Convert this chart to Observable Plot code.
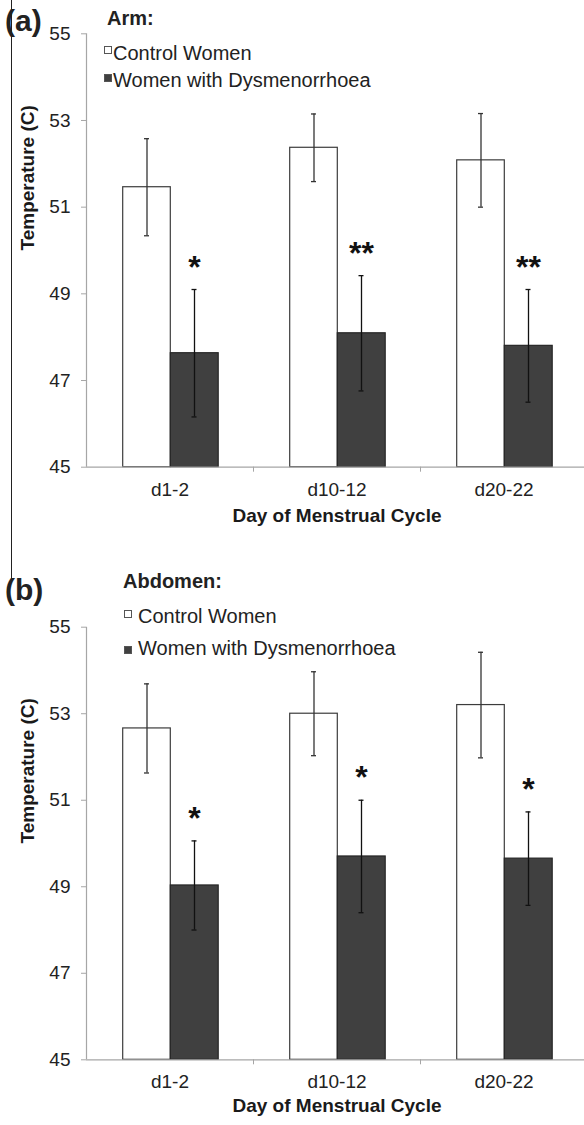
<!DOCTYPE html>
<html>
<head>
<meta charset="utf-8">
<script src="https://cdn.jsdelivr.net/npm/d3@7"></script>
<script src="https://cdn.jsdelivr.net/npm/@observablehq/plot@0.6"></script>
<style>
  html, body { margin: 0; padding: 0; background: #fff; }
  body { width: 584px; height: 1125px; overflow: hidden; position: relative;
         font-family: "Liberation Sans", Arial, sans-serif; color: #222; }
  .abs { position: absolute; white-space: nowrap; line-height: 1; }
  .sq { position: absolute; width: 6px; height: 6px; border: 1px solid #555; }
</style>
</head>
<body>
<div id="panelA" class="abs" style="left:0;top:0"></div>
<div id="panelB" class="abs" style="left:0;top:540px"></div>

<div class="abs" style="left:10.5px;top:0;width:1.5px;height:582px;background:#222"></div>

<div class="abs" style="left:5px;top:6px;font-size:30px;font-weight:bold">(a)</div>
<div class="abs" style="left:107px;top:8px;font-size:20px;font-weight:bold">Arm:</div>
<div class="sq" style="left:104px;top:46px;background:#fff"></div>
<div class="abs" style="left:113px;top:42.5px;font-size:20px">Control Women</div>
<div class="sq" style="left:104px;top:74px;background:#404040"></div>
<div class="abs" style="left:113px;top:69.5px;font-size:20px">Women with Dysmenorrhoea</div>

<div class="abs" style="left:5px;top:575px;font-size:30px;font-weight:bold">(b)</div>
<div class="abs" style="left:123px;top:571px;font-size:20px;font-weight:bold">Abdomen:</div>
<div class="sq" style="left:124px;top:610px;background:#fff"></div>
<div class="abs" style="left:138px;top:605.5px;font-size:20px">Control Women</div>
<div class="sq" style="left:124px;top:646px;background:#404040"></div>
<div class="abs" style="left:138px;top:637.5px;font-size:20px">Women with Dysmenorrhoea</div>

<script>
// ---- data ----
const days = ["d1-2", "d10-12", "d20-22"];
const yTicks = [45, 47, 49, 51, 53, 55];

// (a) Arm
const armControl = [51.46, 52.37, 52.08];
const armControlErr = [1.12, 0.78, 1.08];
const armDysm = [47.63, 48.09, 47.80];
const armDysmErr = [1.47, 1.33, 1.30];
const armStars = ["*", "**", "**"];

// (b) Abdomen
const abdControl = [52.66, 53.00, 53.20];
const abdControlErr = [1.03, 0.97, 1.22];
const abdDysm = [49.03, 49.70, 49.65];
const abdDysmErr = [1.03, 1.30, 1.08];
const abdStars = ["*", "*", "*"];

const axisGray = "#a6a6a6";
const font = "'Liberation Sans', Arial, sans-serif";

function panel(control, cErr, dysm, dErr, stars, h, mTop, mBottom, titleDy) {
  const rows = days.map((day, i) => ({
    day, control: control[i], cErr: cErr[i], dysm: dysm[i], dErr: dErr[i], star: stars[i]
  }));
  return Plot.plot({
    width: 584, height: h,
    marginLeft: 86, marginRight: 0, marginTop: mTop, marginBottom: mBottom,
    style: { fontFamily: font, color: "#222", background: "transparent" },
    x: { type: "band", domain: days, range: [86, 587], padding: 0, axis: null },
    y: { domain: [45, 55], axis: null },
    marks: [
      Plot.barY(rows, { x: "day", y1: 45, y2: "control", fill: "#fff", stroke: "#3c3c3c", strokeWidth: 1.2,
                        insetLeft: 36.7, insetRight: 82.7 }),
      Plot.barY(rows, { x: "day", y1: 45, y2: "dysm", fill: "#404040", stroke: "#262626", strokeWidth: 1.2,
                        insetLeft: 84.3, insetRight: 34.8 }),
      Plot.ruleX(rows, { x: "day", y1: d => d.control - d.cErr, y2: d => d.control + d.cErr, dx: -23,
                         stroke: "#333", strokeWidth: 1.3 }),
      Plot.tickY(rows, { x: "day", y: d => d.control + d.cErr, dx: -23, insetLeft: 81, insetRight: 81,
                         stroke: "#333", strokeWidth: 1.3 }),
      Plot.tickY(rows, { x: "day", y: d => d.control - d.cErr, dx: -23, insetLeft: 81, insetRight: 81,
                         stroke: "#333", strokeWidth: 1.3 }),
      Plot.ruleX(rows, { x: "day", y1: d => d.dysm - d.dErr, y2: d => d.dysm + d.dErr, dx: 24.5,
                         stroke: "#111", strokeWidth: 1.3 }),
      Plot.tickY(rows, { x: "day", y: d => d.dysm + d.dErr, dx: 24.5, insetLeft: 81, insetRight: 81,
                         stroke: "#111", strokeWidth: 1.3 }),
      Plot.tickY(rows, { x: "day", y: d => d.dysm - d.dErr, dx: 24.5, insetLeft: 81, insetRight: 81,
                         stroke: "#111", strokeWidth: 1.3 }),
      Plot.text(rows, { x: "day", y: d => d.dysm + d.dErr, text: "star", dx: 24.5, dy: -22,
                        fontSize: 32, fontWeight: "bold", fill: "#111" }),
      Plot.ruleY([45], { stroke: axisGray, strokeWidth: 1.2 }),
      Plot.ruleX([days[0]], { x: d => d, dx: -83.5, stroke: axisGray, strokeWidth: 1.2 }),
      Plot.axisY({ ticks: yTicks, tickSize: 5, tickPadding: 11, fontSize: 19, stroke: axisGray, fill: "#222",
                   label: null, tickFormat: d => String(d) }),
      Plot.axisX({ tickSize: 5, dx: 83.5, stroke: axisGray, tickFormat: () => "", label: null }),
      Plot.axisX({ tickSize: 0, tickPadding: 15, fontSize: 19, fill: "#222", label: null }),
      Plot.text(["Day of Menstrual Cycle"], { frameAnchor: "bottom", dx: 1.5, dy: titleDy,
                  fontSize: 19, fontWeight: "bold", fill: "#1a1a1a" }),
      Plot.text(["Temperature (C)"], { frameAnchor: "left", dx: -59, rotate: -90,
                  fontSize: 19, fontWeight: "bold", fill: "#1a1a1a" })
    ]
  });
}

document.getElementById("panelA").append(
  panel(armControl, armControlErr, armDysm, armDysmErr, armStars, 540, 33.3, 73.3, 54.3));
document.getElementById("panelB").append(
  panel(abdControl, abdControlErr, abdDysm, abdDysmErr, abdStars, 585, 86.7, 65.7, 52.4));
</script>
</body>
</html>
